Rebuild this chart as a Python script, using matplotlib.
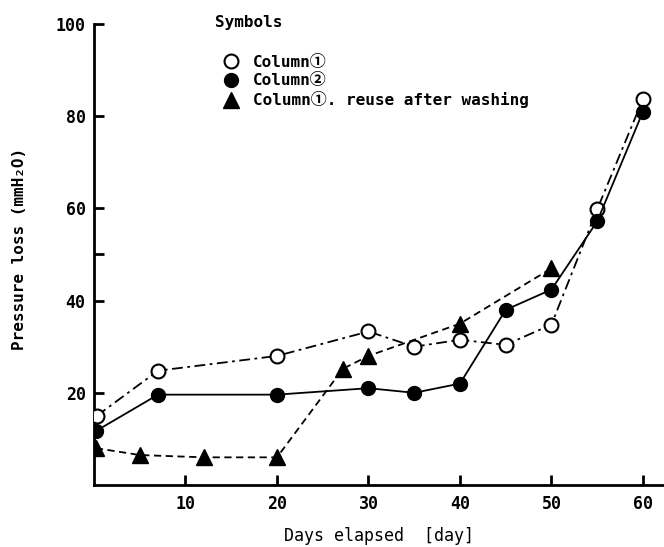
import matplotlib
matplotlib.use("Agg")
import matplotlib.pyplot as plt
from matplotlib.lines import Line2D

plt.rcParams['font.family'] = ['DejaVu Sans Mono', 'Noto Sans CJK JP']
plt.rcParams['font.weight'] = 'bold'

# Column 1 (open circles)
days_col1 = [0.3, 7, 20, 30, 35, 40, 45, 50, 55, 60]
loss_col1 = [15.0, 24.8, 28.0, 33.3, 30.0, 31.5, 30.4, 34.8, 59.8, 83.7]

# Column 2 (filled circles)
days_col2 = [0.2, 7, 20, 30, 35, 40, 45, 50, 55, 60]
loss_col2 = [11.7, 19.6, 19.6, 21.0, 20.0, 22.0, 38.0, 42.4, 57.2, 81.0]

# Column 1, reused after washing (triangles)
days_wash = [0.2, 5, 12, 20, 27.2, 30, 40, 50]
loss_wash = [8.0, 6.5, 6.0, 6.0, 25.2, 28.0, 35.0, 47.0]

x_ticks = [10, 20, 30, 40, 50, 60]
y_ticks = [20, 40, 60, 80, 100]

labels = ['Column①', 'Column②', 'Column①. reuse after washing']

fig = plt.figure(figsize=(6.64, 5.47), dpi=100)
ax = fig.add_axes([94 / 664, 62 / 547, (664 - 94) / 664, (485 - 24) / 547])

lw = 1.3
ax.plot(days_col1, loss_col1, linestyle=(0, (6, 2.5, 1.5, 2.5)), color='black', lw=lw,
        marker='o', markersize=10, markerfacecolor='white', markeredgecolor='black',
        markeredgewidth=1.5, zorder=3)
ax.plot(days_col2, loss_col2, linestyle='-', color='black', lw=lw,
        marker='o', markersize=10, markerfacecolor='black', markeredgecolor='black', zorder=3)
ax.plot(days_wash, loss_wash, linestyle=(0, (4, 2.5)), color='black', lw=lw,
        marker='^', markersize=11, markerfacecolor='black', markeredgecolor='black', zorder=3)

ax.set_xlim(0, 62.3)
ax.set_ylim(0, 100)
ax.spines['top'].set_visible(False)
ax.spines['right'].set_visible(False)
ax.spines['left'].set_linewidth(2)
ax.spines['bottom'].set_linewidth(2)

ax.set_xticks(x_ticks)
ax.set_yticks(y_ticks)
ax.set_yticks([50], minor=True)
ax.tick_params(axis='both', which='both', direction='in', length=7, width=2,
               labelsize=12)
ax.tick_params(axis='x', pad=7)
ax.tick_params(axis='y', pad=6)

ax.set_xlabel('Days elapsed  [day]', fontsize=12, labelpad=10)
fig.text(0.029, 0.545, 'Pressure loss (mmH₂O)', rotation=90, va='center', ha='center',
         fontsize=11.5)

fig.text(215 / 664, 1 - 22 / 547, 'Symbols', va='center', ha='left', fontsize=11.5)
handles = [
    Line2D([], [], linestyle='none', marker='o', markersize=10, markerfacecolor='white',
           markeredgecolor='black', markeredgewidth=1.5),
    Line2D([], [], linestyle='none', marker='o', markersize=10, markerfacecolor='black',
           markeredgecolor='black'),
    Line2D([], [], linestyle='none', marker='^', markersize=11, markerfacecolor='black',
           markeredgecolor='black'),
]
fig.legend(handles, labels, loc='upper left', bbox_to_anchor=(215 / 664, 1 - 55 / 547),
           frameon=False, borderpad=0, borderaxespad=0, handlelength=2.0,
           handletextpad=0.4, labelspacing=0.2, fontsize=11.5)

fig.savefig('out.png', dpi=100)
